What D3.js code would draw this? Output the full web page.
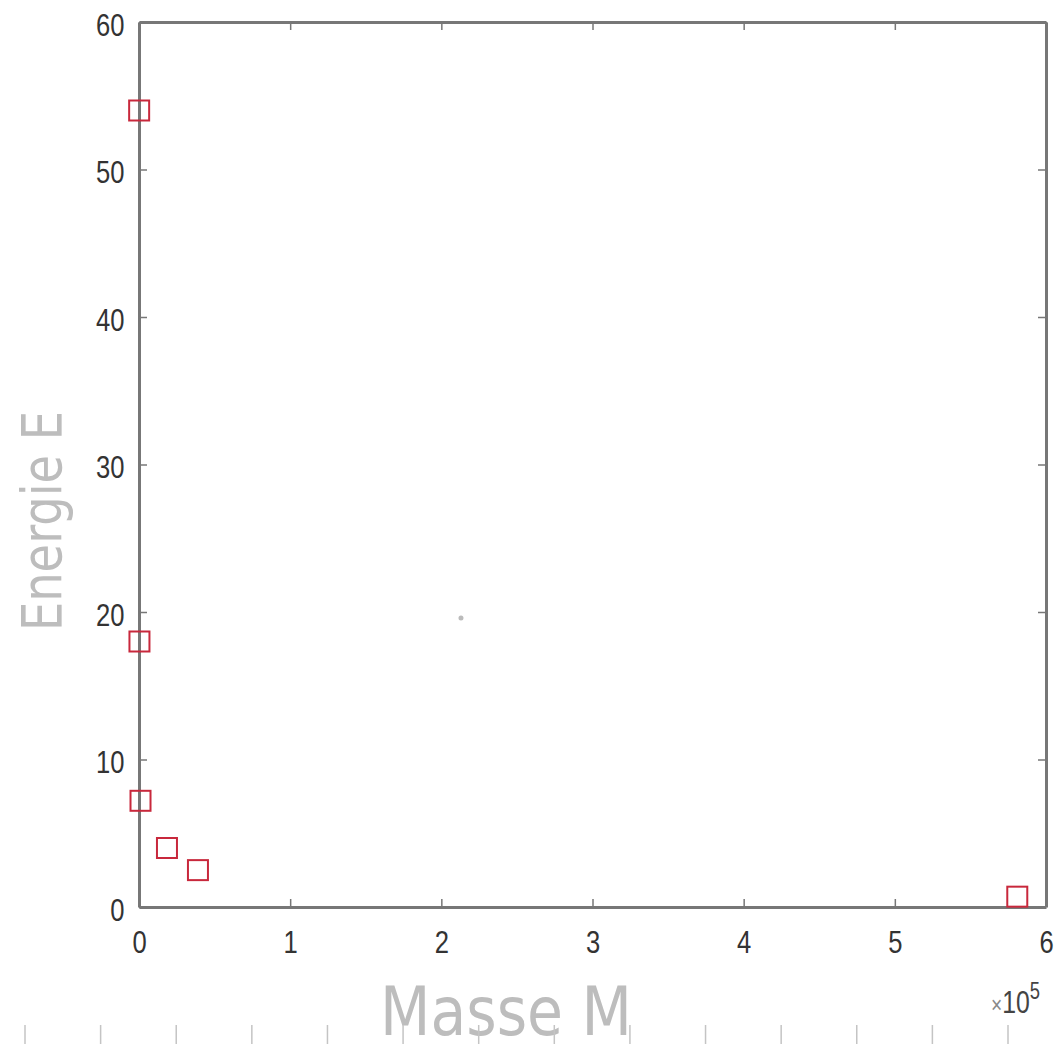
<!DOCTYPE html>
<html>
<head>
<meta charset="utf-8">
<script src="https://cdn.jsdelivr.net/npm/d3@7"></script>
<style>
  body { margin: 0; background: #fff; }
  .axis text { font-family: "Liberation Sans", Arial, sans-serif; font-size: 32px; fill: #333; }
  .axis path, .axis line { stroke: #777; }
  .hand { font-family: "DejaVu Sans Condensed", "DejaVu Sans", sans-serif; fill: #bdbdbd; }
</style>
</head>
<body>
<div id="chart"></div>
<script>
// data
var masse   = [100, 300, 1000, 18500, 39000, 581000];
var energie = [54, 18, 7.2, 4.0, 2.5, 0.7];
var xTicks = [0, 1, 2, 3, 4, 5, 6];
var yTicks = [0, 10, 20, 30, 40, 50, 60];
var rulerTicks = d3.range(14);

var W = 1054, H = 1044;
var margin = { top: 22, right: 8, bottom: 137, left: 139 };

var svg = d3.select("#chart").append("svg")
  .attr("width", W).attr("height", H);

var xScale = d3.scaleLinear().domain([0, 6e5]).range([margin.left, W - margin.right]);
var yScale = d3.scaleLinear().domain([0, 60]).range([H - margin.bottom, margin.top]);

// bottom axis with labels
var gx = svg.append("g").attr("class", "axis")
  .attr("transform", "translate(0," + yScale(0) + ")")
  .call(d3.axisBottom(xScale).tickValues(xTicks.map(function(d){ return d * 1e5; }))
    .tickFormat(function(d){ return d / 1e5; }).tickSizeInner(-8).tickSizeOuter(0).tickPadding(23));

var gy = svg.append("g").attr("class", "axis")
  .attr("transform", "translate(" + xScale(0) + ",0)")
  .call(d3.axisLeft(yScale).tickValues(yTicks).tickSizeInner(-8).tickSizeOuter(0).tickPadding(18));
gy.selectAll("text").attr("dy", "0.42em");

// narrow the tick digits like the original
svg.selectAll(".axis text").attr("transform", "scale(0.8,1)");

// top and right axes, no labels
svg.append("g").attr("class", "axis")
  .attr("transform", "translate(0," + yScale(60) + ")")
  .call(d3.axisTop(xScale).tickValues(xTicks.map(function(d){ return d * 1e5; }))
    .tickFormat("").tickSizeInner(-8).tickSizeOuter(0));
svg.append("g").attr("class", "axis")
  .attr("transform", "translate(" + xScale(6e5) + ",0)")
  .call(d3.axisRight(yScale).tickValues(yTicks).tickFormat("").tickSizeInner(-8).tickSizeOuter(0));

svg.selectAll(".axis path").attr("stroke-width", 3);
svg.selectAll(".axis line").attr("stroke-width", 1.5);

// exponent label
var expo = svg.append("text")
  .attr("transform", "translate(" + (xScale(6e5) - 6) + "," + (yScale(0) + 106) + ") scale(0.8,1)")
  .attr("text-anchor", "end")
  .style("font-family", "Liberation Sans, Arial, sans-serif")
  .style("font-size", "31px").style("fill", "#444");
expo.append("tspan").style("font-size", "24px").style("fill", "#888").text("\u00d7");
expo.append("tspan").text("10");
expo.append("tspan").attr("dy", -14).style("font-size", "23px").text("5");

// points
var pts = masse.map(function(m, i){ return { m: m, e: energie[i] }; });
var s = 20;
svg.selectAll(".pt").data(pts).enter().append("rect")
  .attr("class", "pt")
  .attr("x", function(d){ return xScale(d.m) - s / 2; })
  .attr("y", function(d){ return yScale(d.e) - s / 2; })
  .attr("width", s).attr("height", s)
  .attr("fill", "none").attr("stroke", "#c8283c").attr("stroke-width", 2);

// stray dot
svg.append("circle")
  .attr("cx", xScale(2.13e5)).attr("cy", yScale(19.6)).attr("r", 2.5)
  .attr("fill", "#bbb");

// hand-written labels
svg.append("text").attr("class", "hand")
  .attr("x", 506).attr("y", 1035)
  .attr("text-anchor", "middle")
  .style("font-size", "68px")
  .attr("textLength", 252)
  .attr("lengthAdjust", "spacingAndGlyphs")
  .text("Masse M");

svg.append("text").attr("class", "hand")
  .attr("transform", "translate(61,521) rotate(-90)")
  .attr("text-anchor", "middle")
  .style("font-size", "56px")
  .attr("textLength", 220)
  .attr("lengthAdjust", "spacingAndGlyphs")
  .text("Energie E");

// ruler ticks along the bottom edge
var rScale = d3.scaleLinear().domain([0, 13]).range([25, 1008]);
svg.selectAll(".ruler").data(rulerTicks).enter().append("line")
  .attr("class", "ruler")
  .attr("x1", function(d){ return rScale(d); }).attr("x2", function(d){ return rScale(d); })
  .attr("y1", 1025).attr("y2", 1044)
  .attr("stroke", "#c4c4c4").attr("stroke-width", 1.5);
</script>
</body>
</html>
